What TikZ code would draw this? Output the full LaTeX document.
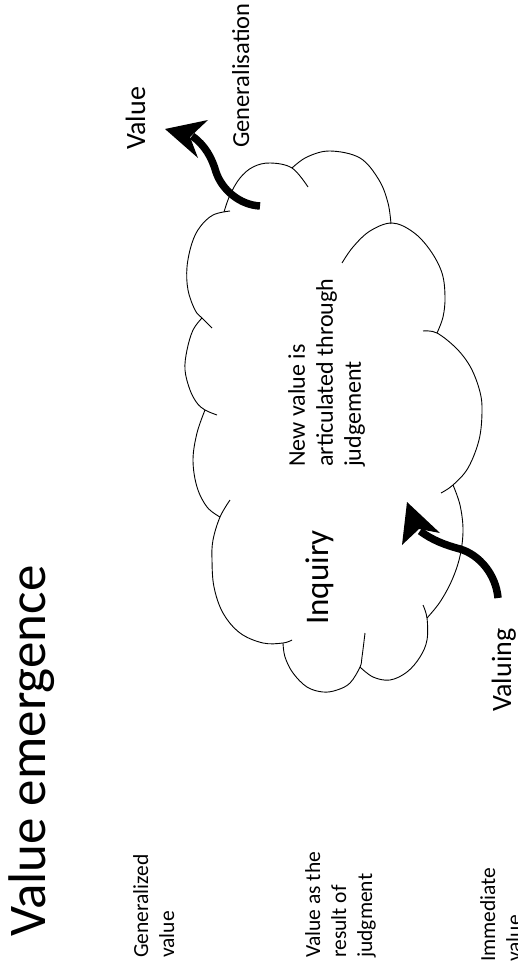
\documentclass[tikz,border=0pt]{standalone}
\usepackage{fontspec}
\setmainfont{Carlito}
\begin{document}
\begin{tikzpicture}[x=1pt,y=-1pt,
  cloudline/.style={line width=0.9pt, line join=round},
  shaft/.style={line width=7.5pt},
  headfill/.style={fill=black},
  lbl/.style={inner sep=0pt, rotate=90, align=left},
]
\useasboundingbox[fill=white] (0,0) rectangle (517,971);
\clip (0,0) rectangle (517,971);

% ---- cloud (bumps) ----
\draw[cloudline] plot[smooth, tension=0.6] coordinates {(224,212) (230,195) (240,178) (253,167) (270,163) (292,168) (308,187)};
\draw[cloudline] plot[smooth, tension=0.6] coordinates {(292,168) (307,157) (330,151) (360,158) (379,180) (388,203) (391,224)};
\draw[cloudline] plot[smooth, tension=0.6] coordinates {(342,263) (353,247) (370,231) (392,223) (413,232) (430,250) (442,273) (445,297) (443,317) (437,333)};
\draw[cloudline] plot[smooth, tension=0.6] coordinates {(423,331) (437,333) (457,349) (471,368) (480,392) (482,412) (479,440) (468,468) (453,485) (441,493)};
\draw[cloudline] plot[smooth, tension=0.6] coordinates {(453,485) (460,505) (463,530) (460,556) (452,580) (440,602) (427,618)};
\draw[cloudline] plot[smooth, tension=0.6] coordinates {(423,605) (427,618) (427,640) (420,657) (407,672) (390,680) (373,677) (360,667)};
\draw[cloudline] plot[smooth, tension=0.6] coordinates {(365,633) (362,657) (360,667) (350,683) (337,690) (323,692) (307,687) (293,673) (285,657) (283,643)};
\draw[cloudline] plot[smooth, tension=0.6] coordinates {(230,500) (220,517) (213,540) (212,560) (214,587) (223,613) (240,633) (263,643) (283,643) (292,640)};
\draw[cloudline] plot[smooth, tension=0.6] coordinates {(205,410) (197,433) (193,460) (197,487) (207,507) (220,517)};
\draw[cloudline] plot[smooth, tension=0.6] coordinates {(202,318) (193,330) (187,350) (185,370) (190,390) (197,403) (205,410) (217,415)};
\draw[cloudline] plot[smooth, tension=0.6] coordinates {(230,211) (213,215) (200,227) (192,243) (187,267) (188,290) (195,310) (202,318) (212,328)};

% ---- arrows ----
\coordinate (gtail) at (260,206);
\coordinate (ghead) at (192,136);
\draw[shaft] (gtail) .. controls (240,205) and (222,190) .. (216,172)
                     .. controls (212,158) and (205,145) .. (ghead);
\fill[headfill] (165,129) -- (208,120) -- (190,137) -- (198,158) -- cycle;

\coordinate (vtail) at (498,598);
\coordinate (vhead) at (420,531);
\draw[shaft] (vtail) .. controls (496,575) and (480,555) .. (460,549)
                     .. controls (445,545) and (432,540) .. (vhead);
\fill[headfill] (407,502) -- (402,545) -- (419,529) -- (440,533) -- cycle;

% ---- texts ----
\node[lbl, anchor=base west, font=\fontsize{53}{60}\selectfont] (title) at (45,937) {Value emergence};
\node[lbl, anchor=north west, font=\fontsize{21.5}{26}\selectfont] (genval) at (133,958) {Generalized\\value};
\node[lbl, anchor=north west, font=\fontsize{21.5}{26}\selectfont] (judgval) at (305,958) {Value as the\\result of\\judgment};
\node[lbl, anchor=north west, font=\fontsize{21.5}{26}\selectfont] (immval) at (480,962) {Immediate\\value};
\node[lbl, anchor=base west, font=\fontsize{33}{40}\selectfont] (inquiry) at (328,625) {Inquiry};
\node[lbl, anchor=north west, font=\fontsize{24}{28}\selectfont] (newval) at (288,467) {New value is\\articulated through\\judgement};
\node[lbl, anchor=base west, font=\fontsize{28}{34}\selectfont] (value) at (145,150) {Value};
\node[lbl, anchor=base west, font=\fontsize{24.5}{30}\selectfont] (generalisation) at (249,148) {Generalisation};
\node[lbl, anchor=base west, font=\fontsize{28}{34}\selectfont] (valuing) at (511,712) {Valuing};
\end{tikzpicture}
\end{document}
